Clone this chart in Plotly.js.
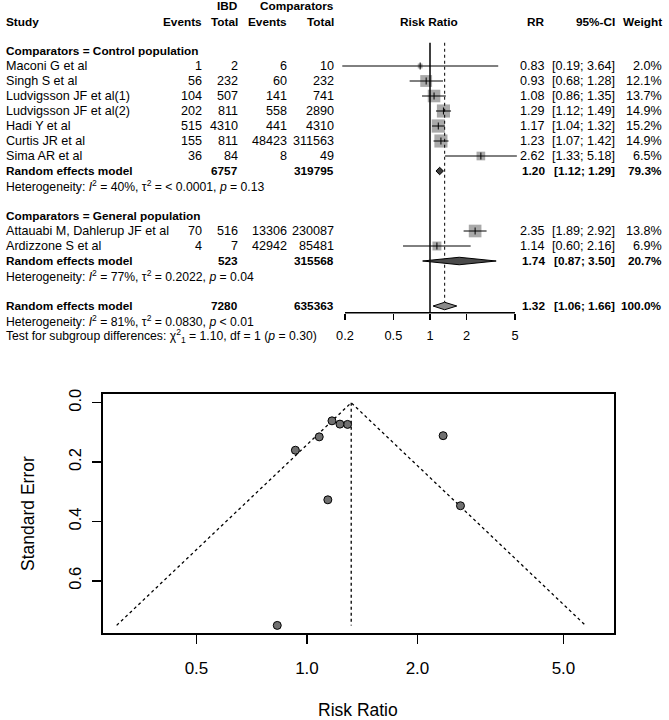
<!DOCTYPE html>
<html>
<head>
<meta charset="utf-8">
<script src="https://cdn.plot.ly/plotly-3.0.1.min.js"></script>
<style>
body { margin: 0; background: #fff; }
#chart { width: 669px; height: 720px; }
</style>
</head>
<body>
<div id="chart"></div>
<script>
// forest plot data, one entry per study
const studies = ["Maconi G et al", "Singh S et al", "Ludvigsson JF et al(1)", "Ludvigsson JF et al(2)", "Hadi Y et al", "Curtis JR et al", "Sima AR et al", "Attauabi M, Dahlerup JF et al", "Ardizzone S et al"]
const studyGroup = [0, 0, 0, 0, 0, 0, 0, 1, 1]
const ibdEvents = [1, 56, 104, 202, 515, 155, 36, 70, 4]
const ibdTotal = [2, 232, 507, 811, 4310, 811, 84, 516, 7]
const compEvents = [6, 60, 141, 558, 441, 48423, 8, 13306, 42942]
const compTotal = [10, 232, 741, 2890, 4310, 311563, 49, 230087, 85481]
const rr = [0.83, 0.93, 1.08, 1.29, 1.17, 1.23, 2.62, 2.35, 1.14]
const ciLow = [0.19, 0.68, 0.86, 1.12, 1.04, 1.07, 1.33, 1.89, 0.60]
const ciHigh = [3.64, 1.28, 1.35, 1.49, 1.32, 1.42, 5.18, 2.92, 2.16]
const weight = [2.0, 12.1, 13.7, 14.9, 15.2, 14.9, 6.5, 13.8, 6.9]

// subgroups and random effects summaries (last one = overall)
const groups = ["Comparators = Control population", "Comparators = General population"]
const sumIbdTotal = [6757, 523, 7280]
const sumCompTotal = [319795, 315568, 635363]
const sumRR = [1.20, 1.74, 1.32]
const sumLow = [1.12, 0.87, 1.06]
const sumHigh = [1.29, 3.50, 1.66]
const sumWeight = [79.3, 20.7, 100.0]
const heterogeneity = [
    "Heterogeneity: <i>I</i><sup>2</sup> = 40%, τ<sup>2</sup> = &lt; 0.0001, <i>p</i> = 0.13",
    "Heterogeneity: <i>I</i><sup>2</sup> = 77%, τ<sup>2</sup> = 0.2022, <i>p</i> = 0.04",
    "Heterogeneity: <i>I</i><sup>2</sup> = 81%, τ<sup>2</sup> = 0.0830, <i>p</i> &lt; 0.01"
]
const subgroupTest = "Test for subgroup differences: χ<sup>2</sup><sub>1</sub> = 1.10, df = 1 (<i>p</i> = 0.30)"
const forestTicks = [0.2, 0.5, 1, 2, 5]

// funnel plot
const funnelSE = [0.75, 0.16, 0.115, 0.073, 0.061, 0.072, 0.347, 0.111, 0.327]
const funnelEdgeRR = [0.303, 1.32, 5.74]
const funnelEdgeSE = [0.75, 0, 0.75]
const funnelTicks = [0.5, 1, 2, 5]
const funnelTickText = ["0.5", "1.0", "2.0", "5.0"]
const seTicks = [0, 0.2, 0.4, 0.6]
const seTickText = ["0.0", "0.2", "0.4", "0.6"]

const W = 669, H = 720
const FONT = "Liberation Sans, Arial, sans-serif"
const px = v => v / W
const py = v => 1 - v / H
// forest rows: row k sits at 51 + 15k px
const rowOf = p => (p - 51) / 15
const axisRow = rowOf(312.7)

// work out which row each line goes on
const studyRow = []
const groupRow = [], sumRow = [], hetRow = []
let r = 0
groups.forEach((g, gi) => {
    groupRow.push(r++)
    studies.forEach((s, i) => {
        if (studyGroup[i] === gi) studyRow[i] = r++
    })
    sumRow.push(r++)
    hetRow.push(r++)
    r++
})
sumRow.push(r++)
hetRow.push(r++)
const testRow = r

const fmt = v => v.toFixed(2)
const ci = (lo, hi) => "[" + fmt(lo) + "; " + fmt(hi) + "]"

const regular = {family: FONT, size: 12.6, color: "#000"}
const heavy = {family: FONT, size: 11.8, color: "#000"}
const small = {family: FONT, size: 12.2, color: "#000"}

const annotations = []
const txt = (x, y, text, anchor, font) => {
    annotations.push({
        xref: "paper", yref: "y", x: px(x), y, text, xanchor: anchor, yanchor: "middle",
        showarrow: false, font: font || regular
    })
}
const btxt = (x, y, text, anchor) => txt(x, y, "<b>" + text + "</b>", anchor, heavy)

// column headers
btxt(239.5, -3, "IBD", "right")
btxt(335.5, -3, "Comparators", "right")
const hdr = -1.95
btxt(4, hdr, "Study", "left")
btxt(204.5, hdr, "Events", "right")
btxt(239.5, hdr, "Total", "right")
btxt(288.5, hdr, "Events", "right")
btxt(335.5, hdr, "Total", "right")
btxt(429, hdr, "Risk Ratio", "center")
btxt(546.5, hdr, "RR", "right")
btxt(617, hdr, "95%-CI", "right")
btxt(664, hdr, "Weight", "right")

groups.forEach((g, gi) => btxt(4, groupRow[gi], g, "left"))
studies.forEach((s, i) => {
    const k = studyRow[i]
    txt(4, k, s, "left")
    txt(204.5, k, String(ibdEvents[i]), "right")
    txt(239.5, k, String(ibdTotal[i]), "right")
    txt(288.5, k, String(compEvents[i]), "right")
    txt(335.5, k, String(compTotal[i]), "right")
    txt(546.5, k, fmt(rr[i]), "right")
    txt(617, k, ci(ciLow[i], ciHigh[i]), "right")
    txt(664, k, weight[i].toFixed(1) + "%", "right")
})
sumRR.forEach((v, j) => {
    const k = sumRow[j]
    btxt(4, k, "Random effects model", "left")
    btxt(239.5, k, String(sumIbdTotal[j]), "right")
    btxt(335.5, k, String(sumCompTotal[j]), "right")
    btxt(546.5, k, fmt(v), "right")
    btxt(617, k, ci(sumLow[j], sumHigh[j]), "right")
    btxt(664, k, sumWeight[j].toFixed(1) + "%", "right")
    txt(4, hetRow[j], heterogeneity[j], "left", small)
})
txt(4, testRow, subgroupTest, "left", small)

// funnel axis titles
annotations.push({xref: "paper", yref: "paper", x: px(28), y: py(514), text: "Standard Error", textangle: -90,
    xanchor: "center", yanchor: "middle", showarrow: false, font: {family: FONT, size: 17.5, color: "#000"}})
annotations.push({xref: "paper", yref: "paper", x: px(358), y: py(710), text: "Risk Ratio",
    xanchor: "center", yanchor: "middle", showarrow: false, font: {family: FONT, size: 17.5, color: "#000"}})

const traces = []

// study squares, area follows the weight
traces.push({
    x: rr, y: studyRow, type: "scatter", mode: "markers", xaxis: "x", yaxis: "y",
    marker: {symbol: "square", color: "#858585", size: weight.map(w => 3.4 * Math.sqrt(w)), line: {width: 0}},
    hoverinfo: "skip"
})
// confidence intervals
const cx = [], cy = []
rr.forEach((v, i) => {
    cx.push(ciLow[i], ciHigh[i], null)
    cy.push(studyRow[i], studyRow[i], null)
})
traces.push({x: cx, y: cy, type: "scatter", mode: "lines", xaxis: "x", yaxis: "y",
    line: {color: "#000", width: 1}, hoverinfo: "skip"})
// point estimate ticks
traces.push({
    x: rr, y: studyRow, type: "scatter", mode: "markers", xaxis: "x", yaxis: "y",
    marker: {symbol: "line-ns", size: 5, line: {color: "#000", width: 1}}, hoverinfo: "skip"
})
// no effect line
traces.push({x: [1, 1], y: [-0.55, axisRow], type: "scatter", mode: "lines", xaxis: "x", yaxis: "y",
    line: {color: "#000", width: 1.5}, hoverinfo: "skip"})
// overall random effects estimate
traces.push({x: [sumRR[2], sumRR[2]], y: [-0.55, sumRow[2] - 0.25], type: "scatter", mode: "lines", xaxis: "x", yaxis: "y",
    line: {color: "#000", width: 1, dash: "dot"}, hoverinfo: "skip"})
// summary diamonds, subgroup ones darker
const diamondFill = ["#3c3c3c", "#4a4a4a", "#8a8a8a"]
sumRR.forEach((v, j) => {
    const k = sumRow[j]
    traces.push({
        x: [sumLow[j], v, sumHigh[j], v, sumLow[j]], y: [k, k - 0.25, k, k + 0.25, k],
        type: "scatter", mode: "lines", fill: "toself", fillcolor: diamondFill[j],
        line: {color: "#000", width: 1}, xaxis: "x", yaxis: "y", hoverinfo: "skip"
    })
})
// axis line of the forest, only across the ticks
traces.push({x: [forestTicks[0], forestTicks[forestTicks.length - 1]], y: [axisRow, axisRow],
    type: "scatter", mode: "lines", xaxis: "x", yaxis: "y", line: {color: "#000", width: 1.5}, hoverinfo: "skip"})

// funnel
traces.push({x: funnelEdgeRR, y: funnelEdgeSE, type: "scatter", mode: "lines", xaxis: "x2", yaxis: "y2",
    line: {color: "#000", width: 1.3, dash: "dot"}, hoverinfo: "skip"})
traces.push({x: [funnelEdgeRR[1], funnelEdgeRR[1]], y: [funnelEdgeSE[1], funnelEdgeSE[0]], type: "scatter", mode: "lines",
    xaxis: "x2", yaxis: "y2", line: {color: "#000", width: 1.3, dash: "dot"}, hoverinfo: "skip"})
traces.push({x: rr, y: funnelSE, type: "scatter", mode: "markers", xaxis: "x2", yaxis: "y2",
    marker: {symbol: "circle", size: 8, color: "#707070", line: {color: "#000", width: 1}}, hoverinfo: "skip"})

const lg = Math.log10
const perDecade = (515 - 345) / (lg(5) - lg(0.2))
const fLeft = lg(0.2) - 345 / perDecade
const fRight = lg(0.2) + (W - 345) / perDecade

const layout = {
    width: W, height: H,
    margin: {l: 0, r: 0, t: 0, b: 0},
    paper_bgcolor: "#fff", plot_bgcolor: "rgba(0,0,0,0)",
    showlegend: false,
    font: {family: FONT, color: "#000"},
    xaxis: {
        type: "log", domain: [0, 1], range: [fLeft, fRight],
        anchor: "free", position: py(312.7),
        tickvals: forestTicks, ticktext: forestTicks.map(String),
        ticks: "outside", ticklen: 6, tickwidth: 1.5, tickcolor: "#000",
        ticklabelstandoff: 5,
        showline: false, showgrid: false, zeroline: false,
        tickfont: {family: FONT, size: 12.8, color: "#000"}
    },
    yaxis: {
        domain: [py(345), 1], range: [rowOf(345), rowOf(0)],
        visible: false, showgrid: false, zeroline: false
    },
    xaxis2: {
        type: "log", domain: [px(102.7), px(614)], range: [lg(0.2776), lg(6.865)],
        anchor: "y2",
        tickvals: funnelTicks, ticktext: funnelTickText,
        ticks: "outside", ticklen: 9, tickwidth: 1.5, tickcolor: "#000",
        ticklabelstandoff: 10,
        showline: true, mirror: true, linecolor: "#000", linewidth: 2,
        showgrid: false, zeroline: false,
        tickfont: {family: FONT, size: 17, color: "#000"}
    },
    yaxis2: {
        domain: [py(633), py(394)], range: [0.7756, -0.0294],
        anchor: "x2",
        tickvals: seTicks, ticktext: seTickText, tickangle: -90,
        ticks: "outside", ticklen: 9, tickwidth: 1.5, tickcolor: "#000",
        ticklabelstandoff: 4,
        showline: true, mirror: true, linecolor: "#000", linewidth: 2,
        showgrid: false, zeroline: false,
        tickfont: {family: FONT, size: 16.5, color: "#000"}
    },
    annotations
}

Plotly.newPlot("chart", traces, layout, {staticPlot: true, displayModeBar: false})
</script>
</body>
</html>
